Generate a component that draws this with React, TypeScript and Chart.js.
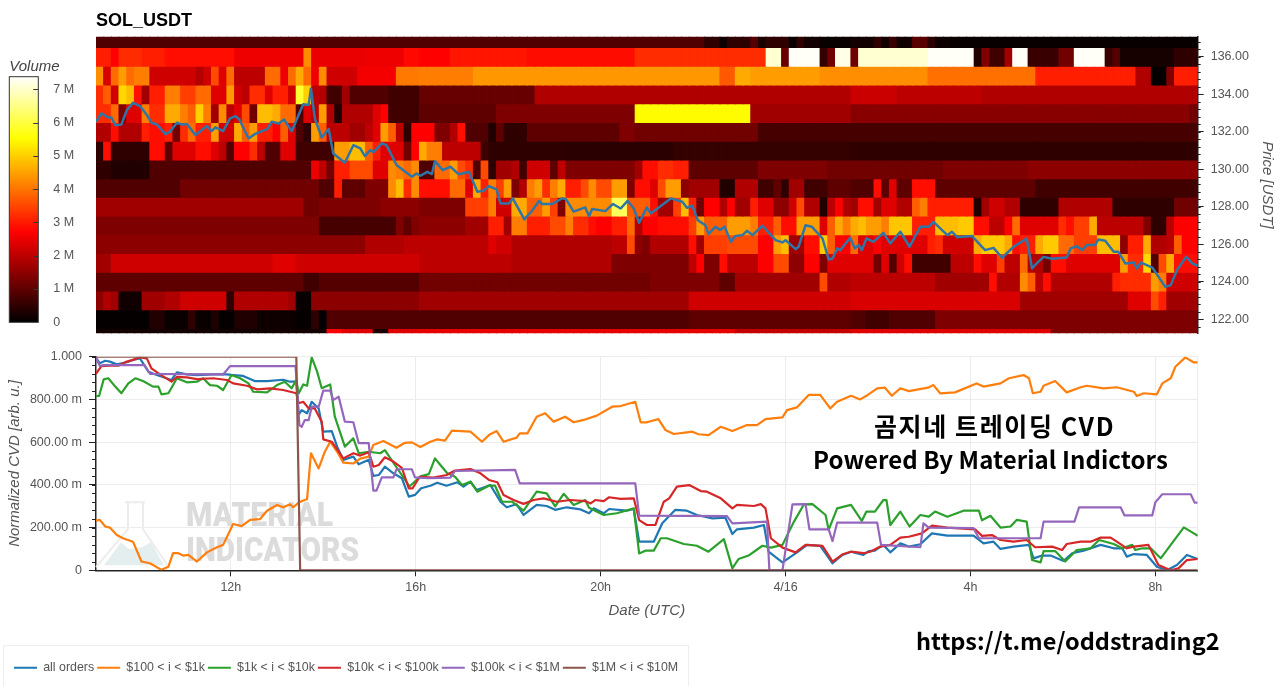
import React, { useEffect, useRef } from "react";
import { Chart, registerables } from "chart.js";

Chart.register(...registerables);

const FONT = '"Liberation Sans", Arial, sans-serif';
const GREY = "#555555";
const START_HOUR = 9.083;
const BINS = 143;
const BINS_PER_HOUR = 6;
const VOLUME_MAX = 7.38;

// Heat-map rows: [first bin, volume in millions, first bin, volume, ...]
const row137 = [0,.85,79,.5,81,.15,82,.5,85,.9,86,.3,87,.5,90,.1,91,.5,92,.2,94,.1,98,.2,101,.5,102,.2,103,.6,104,.2,106,.95,108,.45,109,.15,111,.08];
const row136 = [0,3.05,2,2.7,3,3.2,6,3.05,9,2.87,18,2.55,27,4.25,28,2.5,35,2.55,40,2.8,42,2.7,46,2.95,56,2.85,70,3.2,87,7.05,89,1.1,90,7.33,94,.55,95,1.2,96,7.2,98,1.2,99,7.05,108,7.33,114,.34,115,1.35,116,.68,118,1.7,119,7.33,121,.6,125,1.2,127,7.33,131,.6,132,.9,133,.25,140,.5];
const row135 = [0,4.3,1,2.3,2,3.9,3,4.45,4,3.9,5,4.1,7,2.2,13,1.9,14,2.2,15,3.55,16,2.37,17,3.9,18,2,22,3.9,24,2.55,25,3.9,26,4.6,27,3.9,28,2.55,29,4.25,30,2.2,34,2.6,39,4.05,42,4.1,49,4.4,81,3.7,83,4.6,85,4.45,94,4.3,108,3.95,122,3.05,135,1.87,137,.05,139,1.35,140,3.05];
const row134 = [0,3.2,1,3.75,2,2.2,3,5.1,4,4.8,5,2.9,6,1.7,7,3.05,9,4.1,11,3.4,13,3.9,15,2.37,17,4.45,18,2.2,19,2,20,3.2,22,2.37,23,3.05,25,2.2,26,5.9,27,5,28,2,29,1.87,30,.68,32,1.7,33,.85,38,.68,42,1.1,57,1.87,98,2.15,104,2,115,1.87];
const row133 = [0,3.2,2,3.9,3,1.35,4,2.37,6,4.1,7,3.2,9,4.6,11,4.1,12,3.75,13,5,14,4.1,15,1.7,16,4.25,17,2,18,2.37,19,3.55,20,1.2,21,4.8,23,4.6,24,3.9,26,.85,27,2.37,28,2,29,4.45,30,1.87,31,.34,32,1.87,36,2.37,37,2.7,38,.68,42,1,52,1.35,70,5.5,85,1.7,98,1.45,142,1.2];
const row132 = [0,1.87,2,2.87,3,1.87,6,3.05,7,2.87,9,3.05,10,1.2,11,3.2,12,3.9,13,3.05,15,4.45,16,2.2,18,4.6,19,3.75,20,4.45,21,3.05,23,2.7,24,3.75,25,2.37,26,.85,27,.5,28,4.45,29,3.75,30,2,33,1.7,35,2,36,2.37,37,4.45,38,3.75,39,2,40,.5,41,2.7,44,1.35,46,1.87,47,2.87,48,.85,51,.34,52,1,53,.5,56,1,68,1.35,70,1.2,86,.75];
const row131 = [0,.5,1,2.87,2,.5,7,2.87,9,1,10,2.37,13,2.87,15,2.37,16,2,17,.85,18,2.7,20,3.2,21,2,22,.85,24,2.37,26,.68,31,4.45,33,4.8,35,3.75,36,3.05,37,2.37,40,1.2,41,2.7,42,4.6,43,4.1,45,2,50,.68,51,.5,61,.45,75,.55,98,.5];
const row130 = [0,.5,2,.34,7,.85,28,2.55,29,2,30,1.2,31,3.05,33,3.55,36,2.37,38,4.25,39,4.1,40,3.9,41,4.25,42,.85,44,3.9,46,4.45,47,3.55,48,3.2,49,.85,50,3.55,51,.5,52,1.7,54,1.87,55,.68,56,2.2,59,1,60,2,61,1.35,70,1.7,71,2.87,73,3.2,75,3.05,77,1,86,1.35,95,1.2,110,1.35,121,1.5];
const row129 = [0,.85,11,1.2,29,.85,31,3.05,32,1,35,1.35,38,4.25,39,4.8,40,3.2,41,4.25,42,2.87,46,3.9,48,2.37,49,4.6,50,3.05,51,4.1,52,3.4,53,4.45,54,1.35,55,1.87,56,4.1,57,4.45,58,3.2,59,4.1,60,4.6,61,3.05,63,3.55,64,4.25,65,3.55,67,4.45,69,1.35,70,2.87,72,2.37,73,3.55,74,4.45,76,1.5,77,1.7,81,.34,83,1.87,86,.68,88,1,89,.5,90,1.7,92,.68,95,1,98,.85,101,2.87,102,1,103,2.37,104,1,106,2.87,109,1,122,.68];
const row128 = [0,1.7,27,1.2,29,1.35,37,1.5,42,1.35,48,3.4,51,4.1,52,2.2,54,4.6,56,3.75,58,4.45,59,3.4,60,1.35,61,4.25,67,6.2,69,3.75,72,2.87,73,1.7,75,3.4,76,4.8,77,3.05,78,1.2,79,2.7,81,1.87,82,2.7,83,1.7,85,3.05,86,2.37,88,1.5,90,2.2,91,3.55,92,1.87,94,.34,95,2,96,2.7,97,1.87,98,1.7,99,2.87,101,1.7,102,2.37,104,1.87,106,3.75,107,4.1,108,3.05,114,.34,115,1.7,116,2.2,118,1.87,120,.5,125,1.87,132,.5,140,1.2];
const row127 = [0,1.35,29,.75,39,1.35,40,1,41,1.35,42,1.5,48,1.7,51,3.05,53,1.7,54,4.1,56,3.05,59,3.55,61,4.1,62,3.2,64,2.87,65,2.7,67,3.05,69,3.9,70,1.87,71,2.7,73,2.87,77,3.4,78,4.45,79,3.75,82,4.45,85,4.1,86,3.05,88,3.75,89,2.87,91,4.45,94,2.37,95,3.75,96,4.6,97,4.1,98,4.6,99,4.8,100,4.45,102,4.1,103,4.9,106,3.05,109,4.8,112,4.95,114,2.87,116,2,118,2.7,119,3.9,120,2.37,125,3.2,126,2.87,127,3.4,129,4.6,130,2,136,1.35,137,.5,139,2,140,2.7];
const row126 = [0,1.5,35,1.87,40,2,51,2.37,52,2.2,54,1.87,67,2,69,3.55,70,1.5,71,1.35,72,1.87,77,2.87,78,1.7,79,3.4,82,3.55,86,2.7,88,4.45,89,4.8,90,1.7,92,2.87,94,4.95,95,3.75,96,2.7,98,3.9,99,2.37,101,2.7,102,2.37,108,3.05,109,3.2,110,2.2,114,4.6,115,4.95,118,4.6,119,2.87,120,3.05,122,4.6,123,4.95,125,3.9,127,3.4,130,4.8,133,1.5,134,3.05,136,4.6,137,1.87,139,2,140,3.75,141,2.7];
const row125 = [0,1.7,2,2.2,23,2.37,26,2.2,42,2,54,1.87,67,1.35,77,2,78,2.7,79,1.35,81,2.87,82,2,86,2.7,88,3.55,90,1.5,92,2.7,94,1.35,95,2.37,101,1.2,102,2.37,103,.85,104,2.2,105,2.87,106,.68,111,2,114,2.87,115,2.37,117,3.4,118,2,120,3.9,121,1.87,123,1.2,124,2.87,126,2.37,133,4.45,134,3.2,136,5.1,137,.85,138,3.55,139,4.6,140,2.87];
const row124 = [0,1,27,.68,29,.9,42,1.2,72,1.35,81,1,83,1.7,94,3.55,95,1.87,98,2,109,1.7,116,2.87,117,1.87,120,4.25,121,3.75,122,2,123,2.87,124,1.87,132,3.05,133,3.2,137,4.45,138,4.1,139,2.2];
const row123 = [0,1.5,1,1.87,2,1.7,3,.17,6,1.7,9,1.87,11,2.2,17,.5,18,1.87,25,1.7,26,.1,28,1.5,42,1.7,77,2.2,98,2.3,120,1.7,134,2.37,137,3.55,138,3.05,139,1.7];
const row122 = [0,.05,7,.34,9,.1,12,.5,13,.1,15,.34,16,.05,18,.34,21,.15,26,.05,28,.5,29,.02,30,.85,77,1,98,.85,100,.68,103,.85,109,1.35];
const row121 = [0,.2,30,2.7,32,2.37,36,.3,38,2.37,42,2.45,83,2.1,98,2.37,124,1.35];

const heatRows: [number, number[]][] = [
  [137, row137],[136, row136],[135, row135],[134, row134],[133, row133],[132, row132],
  [131, row131],[130, row130],[129, row129],[128, row128],[127, row127],[126, row126],
  [125, row125],[124, row124],[123, row123],[122, row122],[121, row121],
];

// Line series: [bin, value]
const priceLine = [[0,132.53],[.7,132.98],[1.6,132.76],[2,132.76],[2.5,132.35],[3.3,132.39],[4,133.15],[4.8,133.54],[5.7,133.37],[6.6,132.89],[7.2,132.48],[7.9,132.39],[9,131.87],[9.6,132],[10.5,132.48],[11.1,132.39],[11.8,132.41],[12.9,131.82],[14.4,132.3],[15,132.03],[15.5,132.23],[16.5,132.03],[17.4,132.71],[18.1,132.83],[18.6,132.65],[19.8,131.64],[20.6,131.87],[22.2,132.14],[22.8,132.53],[23.7,132.44],[24.4,132.65],[25.4,132.03],[26.3,132.89],[26.9,133.47],[27.6,133.42],[27.9,134.31],[28.4,132.71],[29.3,131.69],[30.2,132.14],[30.8,130.84],[32.3,130.34],[33.4,131.28],[34.3,131.11],[34.9,130.7],[35.6,131.02],[36,130.91],[37.1,131.37],[37.7,131.28],[39,130.22],[41,129.59],[41.6,129.77],[42.1,129.65],[43,129.86],[43.6,129.74],[44,130.43],[45,129.95],[46,130.13],[47.1,129.72],[48.4,129.86],[49.5,128.79],[50.3,128.85],[51,129.1],[52,128.92],[52.5,128.17],[53.6,128.17],[54.1,128.44],[55.6,127.32],[56.6,127.78],[57.5,128.3],[57.9,128.14],[59.2,128.14],[60.5,128.44],[61,128.4],[62,127.73],[63.5,127.96],[64,127.49],[64.4,127.87],[66.1,127.76],[67.1,128.14],[68.1,127.9],[69,128.31],[69.8,127.9],[70.5,127.14],[71.5,127.96],[72,127.64],[74.6,128.44],[76.1,128.26],[76.7,127.94],[77.4,128.05],[78.1,127.28],[79.1,127.01],[79.5,126.53],[80.4,126.93],[81,126.75],[81.6,126.93],[82.4,126.12],[83,126.43],[83.9,126.48],[84.5,126.71],[85.2,126.48],[86.5,126.98],[88.2,126.21],[89.1,126.09],[89.5,126.21],[90.8,125.73],[91.2,125.86],[92.1,127.01],[92.9,126.93],[94.3,126.3],[95.1,125.18],[95.6,125.23],[96.2,125.77],[96.6,125.68],[97.9,126.34],[98.5,125.77],[99,125.95],[99.4,125.68],[100,126.3],[100.9,126.12],[102.2,126.6],[103.1,126.04],[104.4,126.66],[105.6,125.86],[107,126.93],[108.1,126.93],[108.7,127.19],[110.5,126.48],[111.1,126.66],[111.8,126.36],[113.7,126.43],[115.4,125.68],[116.5,125.8],[117.6,125.27],[119.1,125.86],[120.8,126.3],[121.5,124.7],[122.1,124.97],[123,125.32],[124.1,125.22],[126,125.29],[126.5,125.77],[127.3,125.89],[128,125.68],[128.6,125.95],[129.7,125.95],[130.1,126.25],[131,126.18],[132.1,125.59],[132.7,125.59],[133.6,124.97],[134.7,125.02],[135.1,124.7],[135.6,125.02],[137.1,124.75],[138.8,123.72],[139.5,123.81],[140.3,124.61],[141.5,125.32],[142.3,124.97],[143,124.84]];

const allOrders = [[0,.995],[.5,.969],[1.2,.981],[1.8,.977],[2.7,.964],[4,.974],[4.8,.985],[5.7,.992],[6.8,.93],[7.9,.914],[9.8,.891],[10.5,.927],[11.8,.917],[13.1,.914],[15.2,.917],[17,.917],[17.8,.914],[19.1,.91],[20.6,.886],[22.2,.886],[24.3,.892],[25.2,.883],[26,.883],[26.3,.727],[26.7,.75],[27.4,.735],[28,.789],[28.9,.758],[29.5,.649],[30.6,.652],[31.3,.579],[32.1,.517],[33.4,.532],[34.1,.496],[35.4,.517],[36,.442],[36.7,.446],[37.5,.485],[38.6,.454],[39.7,.431],[40.6,.345],[41.4,.353],[42.2,.384],[43.4,.396],[44.3,.41],[45.5,.396],[46.9,.412],[47.7,.392],[48.6,.415],[49.4,.376],[51.2,.399],[52.5,.321],[53.3,.295],[54.6,.309],[55.5,.259],[57.2,.306],[58.5,.301],[59.6,.283],[61.1,.295],[62.9,.285],[64,.267],[64.6,.29],[65.9,.267],[66.6,.287],[68.9,.279],[69.8,.287],[70.5,.134],[72.4,.134],[73.5,.22],[75.2,.283],[76.7,.279],[78,.259],[80,.243],[81.7,.246],[82.6,.17],[83.2,.192],[85.4,.2],[86.7,.212],[87.3,.087],[89.1,.037],[91,.084],[92.3,.119],[94,.114],[95.6,.033],[96.9,.072],[98,.087],[99.6,.072],[100.3,.09],[101.1,.092],[102.2,.119],[103.1,.084],[104.4,.126],[105.5,.111],[107,.122],[108.5,.173],[110.5,.162],[113.9,.162],[115.2,.126],[116.5,.134],[117.4,.1],[119.1,.111],[121.1,.119],[121.7,.056],[122.8,.069],[123.9,.069],[125.6,.044],[126.7,.08],[128.2,.092],[130.4,.119],[132.1,.103],[133.2,.103],[133.8,.064],[134.7,.076],[136.4,.072],[137.7,.017],[139,0],[140.3,.025],[141.6,.072],[143,.053]];

const orders100to1k = [[0,.232],[.5,.236],[1.2,.205],[1.8,.2],[2.7,.165],[3.5,.15],[4.8,.134],[5.9,.041],[7,.033],[8.5,.002],[9.4,.017],[10,.08],[10.7,.08],[11.3,.069],[12,.072],[13.1,.041],[14.4,.084],[15.7,.108],[16.5,.119],[17.8,.217],[18.9,.207],[20,.236],[21.3,.24],[22.2,.279],[23.5,.306],[24.3,.295],[25.2,.309],[25.6,.295],[26.3,.317],[27.4,.334],[27.9,.548],[28.9,.477],[29.7,.555],[30.4,.602],[31.3,.555],[32.1,.504],[33.4,.5],[34.3,.523],[35.4,.532],[36,.587],[37.3,.605],[39,.574],[40.1,.597],[41,.599],[42.1,.577],[43.4,.602],[44.3,.613],[45.3,.607],[46.2,.654],[48.6,.649],[50.1,.602],[51,.633],[52,.652],[52.9,.602],[54.6,.621],[55,.641],[56,.641],[57.2,.719],[58.3,.735],[59.4,.696],[60.9,.719],[62,.693],[63.3,.704],[65,.724],[67,.766],[68.1,.769],[70,.789],[70.7,.693],[71.5,.693],[73,.708],[73.9,.657],[75,.638],[76.7,.646],[77.4,.649],[78.2,.637],[79.5,.633],[81.1,.672],[82.6,.652],[84.5,.68],[85.8,.68],[86.9,.708],[89.1,.716],[89.7,.75],[91,.763],[92.5,.821],[94,.821],[95.3,.758],[96.2,.789],[98,.817],[99.2,.8],[100,.817],[101.4,.852],[102.4,.855],[103.3,.817],[104.4,.852],[105.5,.839],[108,.855],[108.7,.867],[109.6,.828],[111.5,.833],[114.3,.875],[115.2,.86],[117.4,.875],[118.5,.899],[120.4,.914],[121.1,.899],[121.6,.829],[122.6,.836],[123,.864],[124.5,.886],[126,.833],[127.8,.857],[128.6,.864],[130.8,.852],[132.5,.857],[134.7,.836],[135.1,.816],[136,.829],[137.7,.824],[138.4,.875],[139.5,.899],[140.1,.953],[141.4,.997],[142.5,.973],[143,.973]];

const orders1kto10k = [[0,.816],[.4,.816],[1,.894],[1.6,.899],[2.5,.86],[3.3,.829],[4.2,.875],[5.1,.899],[6.1,.886],[7.4,.86],[8.1,.86],[8.5,.824],[9.4,.829],[10.5,.899],[11.8,.88],[13.1,.883],[13.9,.899],[14.8,.867],[15.7,.864],[16.5,.844],[17.6,.914],[18.7,.899],[19.8,.875],[20.4,.836],[22.2,.833],[23.5,.867],[24.5,.883],[25.4,.852],[26,.891],[26.3,.828],[26.9,.87],[27.4,.864],[28,.997],[28.7,.93],[29.3,.852],[30.4,.87],[31,.719],[32.3,.579],[33.4,.618],[34.1,.548],[35.4,.555],[36.9,.548],[37.5,.563],[38.8,.493],[39.7,.446],[40.7,.392],[41.6,.423],[42.1,.44],[43.2,.45],[44,.524],[44.7,.493],[45.6,.454],[46.6,.438],[47.5,.399],[48.6,.415],[49.5,.368],[51,.396],[51.8,.396],[52.7,.321],[54,.321],[55.5,.279],[57.2,.368],[58.5,.36],[59.6,.299],[60.7,.358],[62,.306],[63.5,.329],[64,.293],[65.9,.259],[67.6,.267],[69.8,.29],[70.5,.079],[71.3,.092],[72.4,.092],[73.3,.15],[74.1,.15],[76.3,.123],[78,.115],[79.5,.087],[81.5,.146],[82.6,.009],[83.4,.053],[84.7,.069],[86.5,.115],[87.6,.106],[89.1,.119],[90.6,.228],[91.9,.309],[93,.31],[94.7,.259],[95.1,.189],[96.2,.29],[98,.306],[99.4,.231],[100,.275],[101.1,.275],[102.2,.329],[102.6,.329],[103.1,.212],[104.4,.275],[105.6,.205],[107,.259],[108.1,.251],[108.9,.275],[110.5,.251],[112.6,.279],[114.6,.279],[115,.234],[116.1,.255],[117.4,.2],[118.7,.205],[119.5,.236],[120.8,.228],[121.5,.048],[122.6,.037],[123,.09],[124.5,.09],[125.8,.041],[127.3,.095],[129.1,.103],[130.2,.142],[132.1,.123],[133.2,.103],[134.5,.119],[134.9,.095],[135.8,.103],[136.9,.103],[138.2,.056],[139.5,.119],[141.2,.201],[142.5,.173],[143,.162]];

const orders10kto100k = [[0,.92],[.7,.956],[1.8,.958],[2.9,.958],[4,.977],[4.8,.985],[5.7,.997],[6.6,.992],[7.2,.945],[8.3,.917],[9.8,.883],[10.5,.906],[11.8,.903],[13.1,.895],[15.2,.899],[17,.891],[17.8,.875],[19.6,.864],[20.9,.847],[22.6,.852],[24.3,.844],[26,.829],[26.3,.782],[26.9,.789],[27.6,.758],[28.4,.758],[29.3,.696],[29.5,.613],[30.6,.602],[32.1,.524],[33.4,.548],[34.3,.537],[35.4,.553],[36,.485],[36.7,.493],[37.5,.529],[38.6,.509],[39.7,.48],[40.6,.384],[41.1,.384],[41.9,.431],[42.1,.438],[43.8,.434],[45.5,.446],[46.6,.467],[48.6,.474],[49.9,.454],[51,.423],[52.1,.412],[52.9,.353],[54.2,.329],[55.5,.311],[56.8,.329],[58.1,.337],[59.8,.321],[61.6,.329],[63.5,.324],[64.2,.313],[64.8,.329],[65.9,.324],[66.6,.342],[68.1,.334],[69.8,.337],[70.5,.235],[71.5,.212],[72.6,.212],[73.7,.321],[74.4,.337],[75.4,.392],[77,.399],[78.5,.371],[79.3,.368],[81.1,.337],[82.6,.29],[83.2,.306],[85.4,.301],[86.3,.31],[86.9,.29],[87.6,.15],[89.1,.106],[90.8,.084],[92.1,.119],[94.3,.114],[95.6,.041],[96.9,.075],[98,.087],[99.6,.08],[100.5,.087],[101.8,.111],[103.1,.119],[104.4,.153],[105.5,.157],[107.2,.173],[108.5,.209],[110.5,.2],[114.1,.192],[115,.161],[116.3,.165],[117.4,.142],[119.1,.134],[120.8,.142],[121.9,.108],[124.1,.111],[125.4,.095],[126,.123],[127.8,.134],[129.1,.134],[130.4,.153],[131.7,.153],[132.5,.134],[133.8,.103],[134.7,.111],[136.6,.119],[137.9,.025],[139.5,0],[140.5,.009],[141.6,.048],[143,.053]];

const orders100kto1M = [[0,.995],[.5,.956],[1,.961],[6.3,.961],[7,.92],[16.5,.917],[17.4,.956],[25.9,.956],[26.4,.68],[26.7,.672],[27.1,.703],[27.6,.703],[28,.766],[28.9,.766],[29.5,.841],[30.4,.841],[30.8,.797],[31.5,.813],[32.3,.696],[33.4,.693],[34.1,.595],[35.4,.595],[36,.373],[36.4,.373],[37.1,.435],[38.6,.435],[39,.473],[41,.473],[41.4,.435],[43.2,.431],[46,.434],[46.6,.465],[54.4,.47],[55,.407],[70,.407],[70.5,.256],[81.9,.254],[82.6,.22],[87.1,.228],[87.4,0],[89.1,0],[90.4,.309],[92.1,.31],[92.6,.192],[95.1,.192],[95.6,.137],[96.2,.223],[101.4,.223],[101.9,.119],[107,.108],[107.4,.22],[108.1,.2],[113.9,.197],[114.6,.15],[122.6,.15],[123,.228],[127,.228],[127.6,.295],[133,.295],[133.5,.257],[137.1,.257],[137.5,.318],[138.4,.356],[142.1,.356],[142.6,.317],[143,.317]];

const orders1Mto10M = [[0,1],[26,1],[26.5,0],[143,0]];

const seriesLabels = ["all orders","$100 < i < $1k","$1k < i < $10k","$10k < i < $100k","$100k < i < $1M","$1M < i < $10M"];
const seriesColors = ["#1f77b4","#ff7f0e","#2ca02c","#d62728","#9467bd","#8c564b"];
const seriesValues = [allOrders, orders100to1k, orders1kto10k, orders10kto100k, orders100kto1M, orders1Mto10M];

const binToHour = (b: number) => START_HOUR + b / BINS_PER_HOUR;
const toPoints = (a: number[][]) => a.map(([b, v]) => ({ x: binToHour(b), y: v }));

function hot(v: number): string {
  const t = Math.min(1, Math.max(0, v / VOLUME_MAX));
  const c = (u: number) => Math.round(255 * Math.min(1, Math.max(0, u)));
  return `rgb(${c(t / 0.368)},${c((t - 0.368) / 0.382)},${c((t - 0.75) / 0.25)})`;
}

function expand(runs: number[]): number[] {
  const out: number[] = [];
  for (let i = 0; i < runs.length; i += 2) {
    const end = i + 2 < runs.length ? runs[i + 2] : BINS;
    for (let b = runs[i]; b < end; b++) out.push(runs[i + 1]);
  }
  return out;
}

// Fixes an axis box size and removes the room it reserves for half-labels.
const fixBox = (key: "width" | "height", size: number) => (s: any) => {
  s[key] = size;
  s.paddingTop = 0;
  s.paddingBottom = 0;
  s.paddingLeft = 0;
  s.paddingRight = 0;
};

const minorTicks = (axisId: string, step: number, dir: number, len: number) => ({
  id: "minor" + axisId + dir,
  afterDatasetsDraw(chart: any) {
    const s = chart.scales[axisId];
    const edge = dir > 0 ? s.left : s.right;
    const ctx = chart.ctx;
    ctx.save();
    ctx.strokeStyle = "#222";
    ctx.lineWidth = 1;
    for (let k = Math.ceil(s.min / step); k * step <= s.max; k++) {
      const p = Math.round(s.getPixelForValue(k * step)) + 0.5;
      ctx.beginPath();
      ctx.moveTo(edge, p);
      ctx.lineTo(edge + dir * len, p);
      ctx.stroke();
    }
    ctx.restore();
  },
});

const watermark = {
  id: "watermark",
  beforeDatasetsDraw(chart: any) {
    const { ctx, chartArea: a } = chart;
    ctx.save();
    const ox = a.left, oy = a.top + 2.5;
    // flask
    ctx.strokeStyle = "#ececec";
    ctx.lineWidth = 2;
    ctx.beginPath();
    ctx.moveTo(ox + 29, oy + 143);
    ctx.lineTo(ox + 49, oy + 143);
    ctx.moveTo(ox + 32, oy + 143);
    ctx.lineTo(ox + 32, oy + 170);
    ctx.lineTo(ox + 0, oy + 208);
    ctx.moveTo(ox + 47, oy + 143);
    ctx.lineTo(ox + 47, oy + 170);
    ctx.lineTo(ox + 73, oy + 208);
    ctx.stroke();
    ctx.fillStyle = "#e4eeee";
    ctx.beginPath();
    ctx.moveTo(ox + 8, oy + 206);
    ctx.lineTo(ox + 25, oy + 183);
    ctx.lineTo(ox + 33, oy + 190);
    ctx.lineTo(ox + 46, oy + 188);
    ctx.lineTo(ox + 55, oy + 183);
    ctx.lineTo(ox + 68, oy + 206);
    ctx.closePath();
    ctx.fill();
    // word mark
    ctx.fillStyle = "#dcdcdc";
    ctx.font = `900 33px "Roboto", ${FONT}`;
    ctx.textBaseline = "middle";
    ctx.textAlign = "left";
    ctx.fillText("MATERIAL", ox + 90, oy + 159, 147);
    ctx.fillText("INDICATORS", ox + 90, oy + 194, 173);
    ctx.restore();
  },
};

const cvdFrame = {
  id: "cvdFrame",
  beforeDatasetsDraw(chart: any) {
    const { ctx, chartArea: a } = chart;
    ctx.save();
    ctx.strokeStyle = "#ececec";
    ctx.beginPath();
    ctx.moveTo(a.right, a.top);
    ctx.lineTo(a.right, a.bottom);
    ctx.stroke();
    ctx.restore();
  },
};

const barFrame = {
  id: "barFrame",
  afterDatasetsDraw(chart: any) {
    const { ctx, chartArea: a, scales } = chart;
    ctx.save();
    ctx.strokeStyle = "#333";
    ctx.lineWidth = 1;
    ctx.strokeRect(a.left, a.top, a.width, a.height);
    for (const t of scales.y.ticks) {
      if (t.value === 0) continue;
      const p = Math.round(scales.y.getPixelForValue(t.value)) + 0.5;
      ctx.beginPath();
      ctx.moveTo(a.right - 5, p);
      ctx.lineTo(a.right, p);
      ctx.stroke();
    }
    ctx.restore();
  },
};

export default function App() {
  const heatRef = useRef<HTMLCanvasElement>(null);
  const barRef = useRef<HTMLCanvasElement>(null);
  const cvdRef = useRef<HTMLCanvasElement>(null);

  useEffect(() => {
    const heatDatasets: any[] = heatRows.map(([price, runs]) => {
      const vols = expand(runs);
      return {
        type: "bar",
        order: 2,
        grouped: false,
        barPercentage: 1,
        categoryPercentage: 1,
        inflateAmount: 0.6,
        borderWidth: 0,
        data: vols.map((_, b) => ({ x: binToHour(b + 0.5), y: [price - 0.5, price + 0.5] })),
        backgroundColor: vols.map(hot),
      };
    });
    heatDatasets.push({
      type: "line",
      order: 1,
      label: "Price",
      data: toPoints(priceLine),
      borderColor: "#2f76a6",
      borderWidth: 2.5,
      pointRadius: 0,
      tension: 0,
      borderJoinStyle: "round",
    });

    const heat = new Chart(heatRef.current!, {
      type: "bar",
      data: { datasets: heatDatasets },
      plugins: [minorTicks("y", 0.4, 1, 3)],
      options: {
        animation: false,
        responsive: false,
        events: [],
        layout: { autoPadding: false, padding: { left: 96, bottom: 11.7, top: 0, right: 0 } },
        plugins: {
          legend: { display: false },
          tooltip: { enabled: false },
          title: {
            display: true,
            text: "SOL_USDT",
            align: "start",
            fullSize: false,
            color: "#000",
            font: { family: FONT, size: 18, weight: "bold" },
            padding: { top: 10.2, bottom: 4.9 },
          },
        },
        scales: {
          x: { type: "linear", display: false, offset: false, min: START_HOUR, max: binToHour(BINS), grid: { offset: false } },
          y: {
            type: "linear",
            position: "right",
            min: 121.24,
            max: 137.07,
            afterFit: fixBox("width", 82.3),
            border: { color: "#222", width: 1.5 },
            grid: { drawOnChartArea: false, tickLength: 6, tickColor: "#222" },
            ticks: {
              stepSize: 2,
              includeBounds: false,
              padding: 7,
              color: GREY,
              font: { family: FONT, size: 12.5 },
              callback: (v: any) => Number(v).toFixed(2),
            },
            title: {
              display: true,
              text: "Price [USDT]",
              color: GREY,
              padding: { top: 4, bottom: 0 },
              font: { family: FONT, size: 15, style: "italic", weight: "normal" },
            },
          },
        },
      } as any,
    } as any);

    const bar = new Chart(barRef.current!, {
      type: "bar",
      data: {
        labels: ["Volume"],
        datasets: [{
          data: [[0, VOLUME_MAX]],
          barPercentage: 1,
          categoryPercentage: 1,
          borderWidth: 0,
          backgroundColor: (c: any) => {
            const { chart } = c;
            const y = chart.scales.y;
            if (!y || !chart.chartArea) return "#000";
            const g = chart.ctx.createLinearGradient(0, y.getPixelForValue(0), 0, y.getPixelForValue(VOLUME_MAX));
            for (let i = 0; i <= 40; i++) g.addColorStop(i / 40, hot((VOLUME_MAX * i) / 40));
            return g;
          },
        }],
      },
      plugins: [barFrame],
      options: {
        animation: false,
        responsive: false,
        events: [],
        layout: { autoPadding: false, padding: { left: 9.3, bottom: 17.7, top: 0, right: 0 } },
        plugins: {
          legend: { display: false },
          tooltip: { enabled: false },
          title: {
            display: true,
            text: "Volume",
            align: "start",
            color: "#444",
            font: { family: FONT, size: 15, style: "italic", weight: "normal" },
            padding: { top: 8, bottom: 0.7 },
          },
        },
        scales: {
          x: { display: false },
          y: {
            position: "right",
            min: 0,
            max: VOLUME_MAX,
            afterFit: fixBox("width", 51.7),
            border: { display: false },
            grid: { display: false, drawTicks: false },
            ticks: {
              stepSize: 1,
              includeBounds: false,
              padding: 15,
              color: GREY,
              font: { family: FONT, size: 12.5 },
              callback: (v: any) => (v === 0 ? "0" : `${v} M`),
            },
          },
        },
      } as any,
    } as any);

    const cvd = new Chart(cvdRef.current!, {
      type: "line",
      data: {
        datasets: seriesValues.map((vals, i) => ({
          label: seriesLabels[i],
          data: toPoints(vals),
          order: 6 - i,
          borderColor: seriesColors[i],
          backgroundColor: seriesColors[i],
          borderWidth: 2.2,
          pointRadius: 0,
          tension: 0,
          borderJoinStyle: "round",
        })),
      },
      plugins: [watermark, cvdFrame, minorTicks("y", 0.04, -1, 4)],
      options: {
        animation: false,
        responsive: false,
        events: [],
        layout: { autoPadding: false, padding: { left: 11, right: 82.3, top: 11.7, bottom: 2 } },
        plugins: {
          tooltip: { enabled: false },
          legend: {
            position: "bottom",
            align: "start",
            labels: {
              boxWidth: 23,
              boxHeight: 2,
              padding: 3,
              color: GREY,
              font: { family: FONT, size: 12.4 },
              sort: (a: any, b: any) => a.datasetIndex - b.datasetIndex,
              generateLabels: (c: any) =>
                (Chart.defaults as any).plugins.legend.labels.generateLabels(c).map((l: any) => ({ ...l, lineWidth: 0 })),
            },
          },
        },
        scales: {
          x: {
            type: "linear",
            min: START_HOUR,
            max: binToHour(BINS),
            afterFit: fixBox("height", 88.3),
            border: { color: "#222", width: 1.5 },
            grid: { color: "#ececec", tickColor: "#222", tickLength: 6 },
            ticks: {
              stepSize: 4,
              includeBounds: false,
              maxRotation: 0,
              padding: 4,
              color: GREY,
              font: { family: FONT, size: 12.5 },
              callback: (v: any) => {
                const h = Number(v);
                return h === 24 ? "4/16" : h > 24 ? `${h - 24}h` : `${h}h`;
              },
            },
            title: {
              display: true,
              text: "Date (UTC)",
              color: GREY,
              padding: { top: 0, bottom: 39 },
              font: { family: FONT, size: 15, style: "italic", weight: "normal" },
            },
          },
          y: {
            min: 0,
            max: 1,
            afterFit: fixBox("width", 85),
            border: { color: "#222", width: 1.5 },
            grid: { color: "#ececec", tickColor: "#222", tickLength: 7 },
            ticks: {
              stepSize: 0.2,
              padding: 7,
              color: GREY,
              font: { family: FONT, size: 12.5 },
              callback: (v: any) => {
                const n = Number(v);
                return n === 0 ? "0" : n === 1 ? "1.000" : `${(n * 1000).toFixed(2)} m`;
              },
            },
            title: {
              display: true,
              text: "Normalized CVD [arb. u.]",
              color: GREY,
              padding: { top: -5, bottom: 0 },
              font: { family: FONT, size: 15, style: "italic", weight: "normal" },
            },
          },
        },
      } as any,
    } as any);

    return () => {
      heat.destroy();
      bar.destroy();
      cvd.destroy();
    };
  }, []);

  const note = (text: string, left: number, top: number, spacing: number, size: number) => (
    <div
      style={{
        position: "absolute",
        left,
        top,
        whiteSpace: "nowrap",
        fontFamily: '"Noto Sans CJK KR", "Noto Sans", sans-serif',
        fontWeight: 700,
        fontSize: size,
        lineHeight: "32px",
        letterSpacing: spacing,
        color: "#000",
      }}
    >
      {text}
    </div>
  );

  return (
    <div style={{ position: "fixed", left: 0, top: 0, width: 1280, height: 686, background: "#fff", overflow: "hidden" }}>
      <canvas ref={heatRef} width={1280} height={345} style={{ position: "absolute", left: 0, top: 0 }} />
      <canvas ref={barRef} width={90} height={290} style={{ position: "absolute", left: 0, top: 50 }} />
      <div style={{ position: "absolute", left: 3, top: 645, width: 684, height: 42, border: "1px solid #eee" }} />
      <canvas ref={cvdRef} width={1280} height={341} style={{ position: "absolute", left: 0, top: 345 }} />
      {note("곰지네 트레이딩 CVD", 874, 409, 1.6, 25)}
      {note("Powered By Material Indictors", 813, 443, 0.07, 24)}
      {note("https://t.me/oddstrading2", 916, 624, 0, 23.5)}
    </div>
  );
}
